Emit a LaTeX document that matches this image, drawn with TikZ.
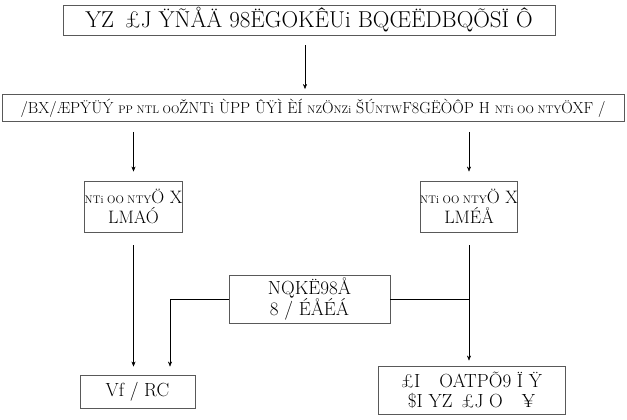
\documentclass[tikz,border=0pt]{standalone}
\usepackage{fontspec}
\usepackage{tikz}
\usetikzlibrary{arrows.meta}
\newcommand{\sm}[1]{{\fontsize{11}{12}\selectfont #1}}

\begin{document}
\begin{tikzpicture}[x=1pt,y=-1pt,>={Stealth[length=5pt,width=4pt]},
  box/.style={draw=black!65,line width=0.9pt,inner sep=0pt,align=center}]
\useasboundingbox (0,0) rectangle (627,420);
% boxes
\node[box,minimum width=492pt,minimum height=30pt,font=\fontsize{23}{24}\selectfont] (head) at (309,20) {YZ\, £J ŸÑÅÄ 98ËGOKÊUi BQŒËDBQÕSÏ Ô};
\node[box,minimum width=622pt,minimum height=27pt,font=\fontsize{16}{17}\selectfont] (wide) at (313,108) {/BX/ÆPŸÜÝ \sm{PP NTL OO}ŽNTi ÙPP ÛŸÌ ÈÍ \sm{NZ}Ö\sm{NZi} ŠÚ\sm{NTW}F8GËÒÔP H \sm{NTi OO NTY}ÖXF /};
\node[box,minimum width=95pt,minimum height=51pt,font=\fontsize{18}{20}\selectfont] (lbox) at (133.5,206.5) {\sm{NTi OO NTY}Ö X\\LMAÓ};
\node[box,minimum width=95pt,minimum height=51pt,font=\fontsize{18}{20}\selectfont] (rbox) at (469,206.5) {\sm{NTi OO NTY}Ö X\\LMÉÅ};
\node[box,minimum width=161pt,minimum height=48pt,font=\fontsize{19}{20}\selectfont] (mid) at (309.5,299) {NQKË98Å\\8 / ÉÅÉÁ};
\node[box,minimum width=115pt,minimum height=33pt,font=\fontsize{19}{20}\selectfont] (out) at (137.5,391.5) {Vf / RC};
\node[box,minimum width=187pt,minimum height=48pt,font=\fontsize{19}{20}\selectfont] (res) at (471.5,390) {£I\quad OATPÕ9 Ï Ÿ\\\$I YZ\, £J O\quad ¥};
% connectors
\coordinate (lj) at (170,299);
\coordinate (rj) at (470,299);
\draw[->] ([yshift=-10pt,xshift=-4pt]head.south) -- ([xshift=-4pt,yshift=5pt]head.south |- wide.north);
\draw[->] ([yshift=-10pt]wide.south -| lbox.north) -- ([yshift=9pt]lbox.north);
\draw[->] ([yshift=-10pt]wide.south -| rbox.north) -- ([yshift=9pt]rbox.north);
\draw[->] ([yshift=-13pt]lbox.south) -- ([yshift=8pt]lbox.south |- out.north);
\draw[->] ([yshift=-13pt]rbox.south) -- ([yshift=5pt]rbox.south |- res.north);
\draw[->] (mid.west) -- (lj) -- ([yshift=8pt]lj |- out.north);
\draw (mid.east) -- (rj);
\end{tikzpicture}
\end{document}
